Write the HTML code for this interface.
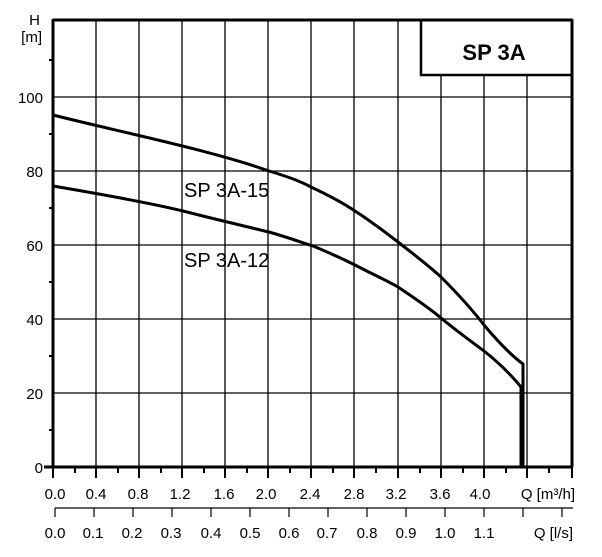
<!DOCTYPE html>
<html><head><meta charset="utf-8"><style>
html,body{margin:0;padding:0;background:#fff;}
svg{display:block;font-family:"Liberation Sans",sans-serif;}
</style></head><body>
<svg width="602" height="557" viewBox="0 0 602 557" xmlns="http://www.w3.org/2000/svg">
<g stroke="#000" stroke-width="1.3">
<line x1="96" y1="20" x2="96" y2="467"/><line x1="139" y1="20" x2="139" y2="467"/>
<line x1="182" y1="20" x2="182" y2="467"/><line x1="225" y1="20" x2="225" y2="467"/>
<line x1="268" y1="20" x2="268" y2="467"/><line x1="311" y1="20" x2="311" y2="467"/>
<line x1="354" y1="20" x2="354" y2="467"/><line x1="398" y1="20" x2="398" y2="467"/>
<line x1="441" y1="75" x2="441" y2="467"/><line x1="484" y1="75" x2="484" y2="467"/>
<line x1="527" y1="75" x2="527" y2="467"/>
<line x1="53" y1="97" x2="572" y2="97"/><line x1="53" y1="171" x2="572" y2="171"/>
<line x1="53" y1="245" x2="572" y2="245"/><line x1="53" y1="319" x2="572" y2="319"/>
<line x1="53" y1="393" x2="572" y2="393"/>
</g>
<rect x="421" y="20" width="151" height="55" fill="#fff" stroke="#000" stroke-width="2.5"/>
<text x="494" y="60" font-size="22" font-weight="bold" text-anchor="middle">SP 3A</text>
<g stroke="#000" stroke-width="3" fill="none">
<line x1="53" y1="20" x2="572" y2="20"/>
<line x1="572" y1="20" x2="572" y2="467"/>
<line x1="53" y1="19" x2="53" y2="468"/>
<line x1="44" y1="467" x2="573" y2="467"/>
</g>
<g stroke="#000" stroke-width="2">
<line x1="49" y1="60" x2="53" y2="60"/><line x1="49" y1="134" x2="53" y2="134"/>
<line x1="49" y1="208" x2="53" y2="208"/><line x1="49" y1="282" x2="53" y2="282"/>
<line x1="49" y1="356" x2="53" y2="356"/><line x1="49" y1="430" x2="53" y2="430"/>
<line x1="53" y1="467" x2="53" y2="478"/><line x1="96" y1="467" x2="96" y2="478"/>
<line x1="139" y1="467" x2="139" y2="478"/><line x1="182" y1="467" x2="182" y2="478"/>
<line x1="225" y1="467" x2="225" y2="478"/><line x1="268" y1="467" x2="268" y2="478"/>
<line x1="311" y1="467" x2="311" y2="478"/><line x1="354" y1="467" x2="354" y2="478"/>
<line x1="398" y1="467" x2="398" y2="478"/><line x1="441" y1="467" x2="441" y2="478"/>
<line x1="484" y1="467" x2="484" y2="478"/><line x1="527" y1="467" x2="527" y2="478"/>
<line x1="572" y1="467" x2="572" y2="478"/>
<line x1="75" y1="467" x2="75" y2="473"/><line x1="118" y1="467" x2="118" y2="473"/>
<line x1="161" y1="467" x2="161" y2="473"/><line x1="204" y1="467" x2="204" y2="473"/>
<line x1="247" y1="467" x2="247" y2="473"/><line x1="290" y1="467" x2="290" y2="473"/>
<line x1="333" y1="467" x2="333" y2="473"/><line x1="376" y1="467" x2="376" y2="473"/>
<line x1="420" y1="467" x2="420" y2="473"/><line x1="463" y1="467" x2="463" y2="473"/>
<line x1="506" y1="467" x2="506" y2="473"/><line x1="549" y1="467" x2="549" y2="473"/>
</g>
<g stroke="#000" stroke-width="1.2">
<line x1="55" y1="508" x2="573" y2="508"/>
<line x1="55" y1="508" x2="55" y2="517"/><line x1="94" y1="508" x2="94" y2="517"/>
<line x1="133" y1="508" x2="133" y2="517"/><line x1="172" y1="508" x2="172" y2="517"/>
<line x1="211" y1="508" x2="211" y2="517"/><line x1="250" y1="508" x2="250" y2="517"/>
<line x1="289" y1="508" x2="289" y2="517"/><line x1="328" y1="508" x2="328" y2="517"/>
<line x1="367" y1="508" x2="367" y2="517"/><line x1="406" y1="508" x2="406" y2="517"/>
<line x1="445" y1="508" x2="445" y2="517"/><line x1="484" y1="508" x2="484" y2="517"/>
<line x1="523" y1="508" x2="523" y2="517"/><line x1="562" y1="508" x2="562" y2="517"/>
</g>
<g stroke="#000" stroke-width="3" fill="none" stroke-linejoin="round">
<path d="M53,115 C120,132 210,150 269,171 C292,178 302,182 313,188 C330,196 343,203 355,211 C372,222 385,232 398,242 C412,253 428,265 441,277 C458,294 474,312 484,325 C500,344 512,356 523,364 L523,467"/>
<path d="M53,186 C100,194 150,203 183,211 C210,218 240,225 269,232 C290,238 300,242 313,246 C330,253 343,259 355,265 C372,274 386,280 398,287 C413,297 428,307 441,318 C458,332 472,342 484,351 C498,362 512,376 521,387 L521,467"/>
</g>
<g font-size="20" fill="#000">
<text x="184" y="197">SP 3A-15</text>
<text x="184" y="267">SP 3A-12</text>
</g>
<g font-size="15" fill="#000" text-anchor="end">
<text x="40" y="25">H</text>
<text x="42" y="42">[m]</text>
<text x="43" y="103">100</text>
<text x="43" y="177">80</text>
<text x="43" y="251">60</text>
<text x="43" y="325">40</text>
<text x="43" y="399">20</text>
<text x="43" y="473">0</text>
</g>
<g font-size="15" fill="#000" text-anchor="middle">
<text x="55" y="499">0.0</text><text x="96" y="499">0.4</text><text x="138" y="499">0.8</text>
<text x="180" y="499">1.2</text><text x="224" y="499">1.6</text><text x="266" y="499">2.0</text>
<text x="310" y="499">2.4</text><text x="354" y="499">2.8</text><text x="396" y="499">3.2</text>
<text x="440" y="499">3.6</text><text x="480" y="499">4.0</text>
<text x="55" y="538">0.0</text><text x="93" y="538">0.1</text><text x="132" y="538">0.2</text>
<text x="171" y="538">0.3</text><text x="211" y="538">0.4</text><text x="250" y="538">0.5</text>
<text x="289" y="538">0.6</text><text x="327" y="538">0.7</text><text x="367" y="538">0.8</text>
<text x="406" y="538">0.9</text><text x="445" y="538">1.0</text><text x="484" y="538">1.1</text>
</g>
<g font-size="15" fill="#000" text-anchor="end">
<text x="575" y="499">Q [m³/h]</text>
<text x="573" y="538">Q [l/s]</text>
</g>
</svg>
</body></html>
